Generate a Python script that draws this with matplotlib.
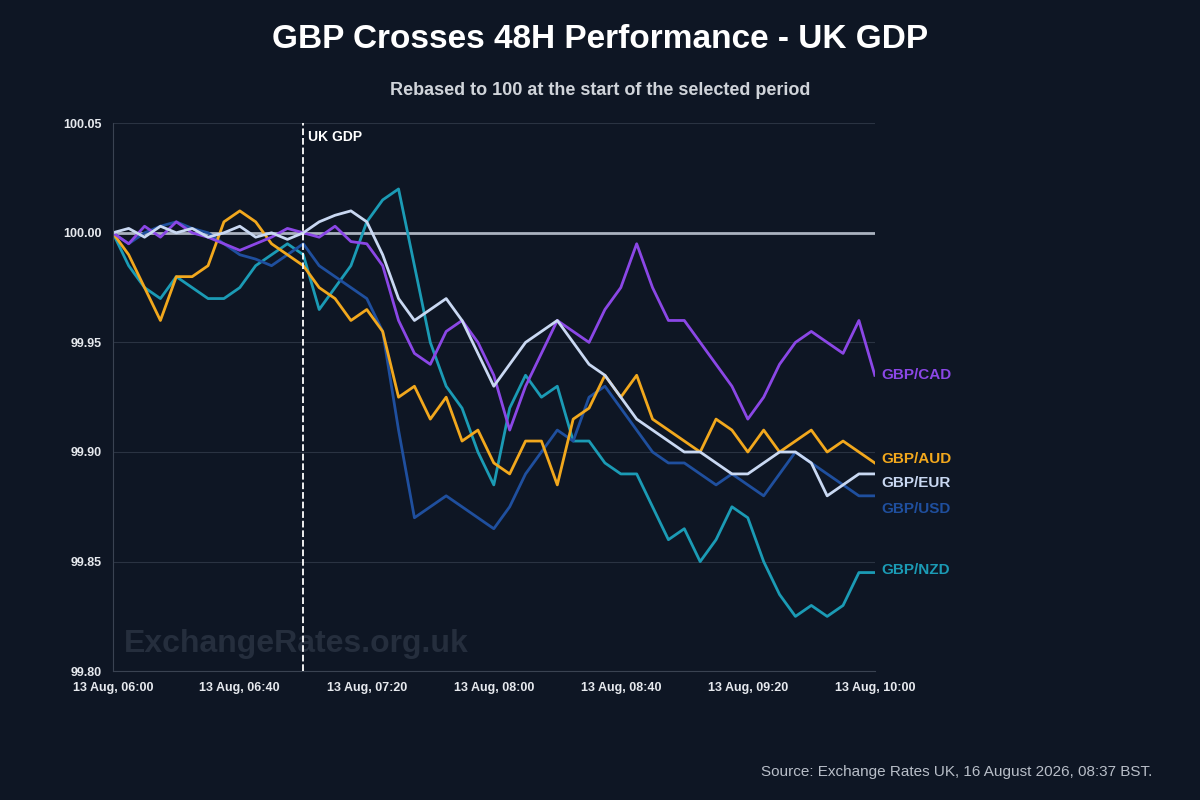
import numpy as np
import matplotlib.pyplot as plt

plt.rcParams['font.family'] = ['Liberation Sans', 'DejaVu Sans']

# minutes after 06:00, every 5 minutes
minutes = np.arange(0, 241, 5)

cad = [100.000, 99.995, 100.003, 99.998, 100.005, 100.000, 99.998, 99.995, 99.992, 99.995,
       99.998, 100.002, 100.000, 99.998, 100.003, 99.996, 99.995, 99.985, 99.960, 99.945,
       99.940, 99.955, 99.960, 99.950, 99.935, 99.910, 99.930, 99.945, 99.960, 99.955,
       99.950, 99.965, 99.975, 99.995, 99.975, 99.960, 99.960, 99.950, 99.940, 99.930,
       99.915, 99.925, 99.940, 99.950, 99.955, 99.950, 99.945, 99.960, 99.935]
aud = [100.000, 99.990, 99.975, 99.960, 99.980, 99.980, 99.985, 100.005, 100.010, 100.005,
       99.995, 99.990, 99.985, 99.975, 99.970, 99.960, 99.965, 99.955, 99.925, 99.930,
       99.915, 99.925, 99.905, 99.910, 99.895, 99.890, 99.905, 99.905, 99.885, 99.915,
       99.920, 99.935, 99.925, 99.935, 99.915, 99.910, 99.905, 99.900, 99.915, 99.910,
       99.900, 99.910, 99.900, 99.905, 99.910, 99.900, 99.905, 99.900, 99.895]
eur = [100.000, 100.002, 99.998, 100.003, 100.000, 100.002, 99.998, 100.000, 100.003, 99.998,
       100.000, 99.997, 100.000, 100.005, 100.008, 100.010, 100.005, 99.990, 99.970, 99.960,
       99.965, 99.970, 99.960, 99.945, 99.930, 99.940, 99.950, 99.955, 99.960, 99.950,
       99.940, 99.935, 99.925, 99.915, 99.910, 99.905, 99.900, 99.900, 99.895, 99.890,
       99.890, 99.895, 99.900, 99.900, 99.895, 99.880, 99.885, 99.890, 99.890]
usd = [100.000, 99.995, 100.000, 100.003, 100.005, 100.002, 100.000, 99.995, 99.990, 99.988,
       99.985, 99.990, 99.995, 99.985, 99.980, 99.975, 99.970, 99.955, 99.910, 99.870,
       99.875, 99.880, 99.875, 99.870, 99.865, 99.875, 99.890, 99.900, 99.910, 99.905,
       99.925, 99.930, 99.920, 99.910, 99.900, 99.895, 99.895, 99.890, 99.885, 99.890,
       99.885, 99.880, 99.890, 99.900, 99.895, 99.890, 99.885, 99.880, 99.880]
nzd = [100.000, 99.985, 99.975, 99.970, 99.980, 99.975, 99.970, 99.970, 99.975, 99.985,
       99.990, 99.995, 99.990, 99.965, 99.975, 99.985, 100.005, 100.015, 100.020, 99.985,
       99.950, 99.930, 99.920, 99.900, 99.885, 99.920, 99.935, 99.925, 99.930, 99.905,
       99.905, 99.895, 99.890, 99.890, 99.875, 99.860, 99.865, 99.850, 99.860, 99.875,
       99.870, 99.850, 99.835, 99.825, 99.830, 99.825, 99.830, 99.845, 99.845]

names = ['GBP/CAD', 'GBP/AUD', 'GBP/EUR', 'GBP/USD', 'GBP/NZD']
colors = ['#8b47e6', '#f2a81d', '#c9d8f2', '#1f4f9e', '#1b9bb5']
label_y = [99.935, 99.897, 99.886, 99.874, 99.846]
tick_pos = [0, 40, 80, 120, 160, 200, 240]
tick_lab = ['13 Aug, 06:00', '13 Aug, 06:40', '13 Aug, 07:20', '13 Aug, 08:00',
            '13 Aug, 08:40', '13 Aug, 09:20', '13 Aug, 10:00']

bg = '#0e1624'
fig = plt.figure(figsize=(12, 8), dpi=100, facecolor=bg)
ax = fig.add_axes([0.094, 0.161, 0.635, 0.685], facecolor=bg)

ax.axhline(100.0, color='#aab2bf', lw=2, zorder=1)
for s, c in zip([nzd, usd, aud, cad, eur], ['#1b9bb5', '#1f4f9e', '#f2a81d', '#8b47e6', '#c9d8f2']):
    ax.plot(minutes, s, color=c, lw=2, zorder=2)
for n, c, y in zip(names, colors, label_y):
    ax.text(242, y, n, color=c, fontsize=11, fontweight='bold', va='center', clip_on=False)

ax.axvline(60, color='white', lw=1.3, ls='--', zorder=3)
ax.text(61.5, 100.047, 'UK GDP', color='white', fontsize=10, fontweight='bold', va='top')

ax.set_xlim(0, 240)
ax.set_ylim(99.80, 100.05)
ax.set_yticks([99.80, 99.85, 99.90, 99.95, 100.00, 100.05])
ax.set_yticklabels(['99.80', '99.85', '99.90', '99.95', '100.00', '100.05'])
ax.set_xticks(tick_pos)
ax.set_xticklabels(tick_lab)
ax.tick_params(colors='#e6e9ee', labelsize=9, length=0)
ax.tick_params(axis='x', pad=8)
ax.tick_params(axis='y', pad=8)
for lab in ax.get_xticklabels() + ax.get_yticklabels():
    lab.set_fontweight('bold')
ax.grid(axis='y', color='#2a3342', lw=0.8)
ax.set_axisbelow(True)
for side in ['top', 'right']:
    ax.spines[side].set_visible(False)
for side in ['left', 'bottom']:
    ax.spines[side].set_color('#3a4352')

ax.text(0.015, 0.035, 'ExchangeRates.org.uk', transform=ax.transAxes, color='#252e3d',
        fontsize=23, fontweight='bold', zorder=0)

fig.text(0.5, 0.94, 'GBP Crosses 48H Performance - UK GDP', ha='center', color='white',
         fontsize=24, fontweight='bold')
fig.text(0.5, 0.881, 'Rebased to 100 at the start of the selected period', ha='center',
         color='#d0d4da', fontsize=13, fontweight='bold')
fig.text(0.96, 0.03, 'Source: Exchange Rates UK, 16 August 2026, 08:37 BST.', ha='right',
         color='#b8bec8', fontsize=11)

fig.savefig('out.png', facecolor=bg)
